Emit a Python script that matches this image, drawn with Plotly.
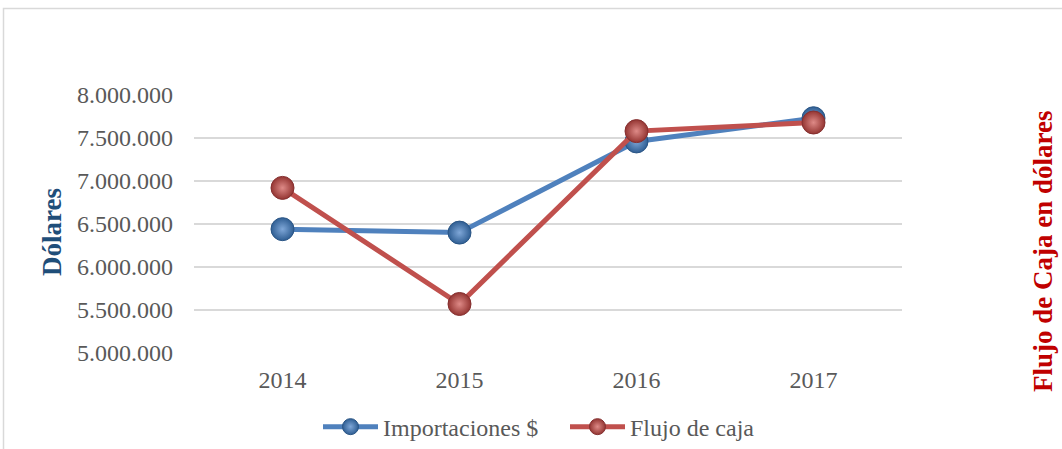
import plotly.graph_objects as go

years = ["2014", "2015", "2016", "2017"]
importaciones = [6440000, 6400000, 7460000, 7730000]
flujo_caja = [6920000, 5570000, 7580000, 7680000]
y_ticks = [5000000, 5500000, 6000000, 6500000, 7000000, 7500000, 8000000]
y_tick_labels = ["5.000.000", "5.500.000", "6.000.000", "6.500.000", "7.000.000", "7.500.000", "8.000.000"]

FONT = "Liberation Serif, Times New Roman, serif"

fig = go.Figure()
fig.add_trace(go.Scatter(
    x=years, y=importaciones, name="Importaciones $", mode="lines+markers",
    line=dict(color="#4F81BD", width=5), legend="legend",
    marker=dict(size=23, color="#2F5E93",
                gradient=dict(type="radial", color="#7FA7D8"),
                line=dict(color="#2A5585", width=1)),
))
fig.add_trace(go.Scatter(
    x=years, y=flujo_caja, name="Flujo de caja", mode="lines+markers",
    line=dict(color="#C0504D", width=5), legend="legend2",
    marker=dict(size=23, color="#943532",
                gradient=dict(type="radial", color="#DE8A87"),
                line=dict(color="#853030", width=1)),
))

legend_style = dict(orientation="h", yanchor="middle", y=-0.287, xanchor="left",
                    font=dict(family=FONT, size=24, color="#595959"), itemwidth=55,
                    bgcolor="rgba(0,0,0,0)")

fig.update_layout(
    width=1062, height=449,
    margin=dict(l=194, r=160, t=95, b=96, autoexpand=False),
    paper_bgcolor="white", plot_bgcolor="white",
    font=dict(family=FONT, size=24, color="#595959"),
    showlegend=True,
    legend=dict(legend_style, x=(318 - 194) / 708),
    legend2=dict(legend_style, x=(565 - 194) / 708),
    xaxis=dict(type="category", range=[-0.5, 3.5], showgrid=False, zeroline=False,
               showline=False, ticks="", ticklabelstandoff=10,
               tickfont=dict(family=FONT, size=24, color="#595959")),
    yaxis=dict(range=[5000000, 8000000], tickvals=y_ticks, ticktext=y_tick_labels,
               showgrid=True, gridcolor="#D9D9D9", gridwidth=1.5, zeroline=False,
               showline=False, ticks="", ticklabelstandoff=20,
               tickfont=dict(family=FONT, size=24, color="#595959")),
    shapes=[dict(type="rect", xref="paper", yref="paper",
                 x0=(3.5 - 194) / 708, x1=2.0, y0=-2.0, y1=(353 - 8.5) / 258,
                 line=dict(color="#D9D9D9", width=1.5), fillcolor="rgba(0,0,0,0)",
                 layer="below")],
    annotations=[
        dict(text="<b>Dólares</b>", xref="paper", yref="paper",
             x=(52 - 194) / 708, y=(353 - 232) / 258, textangle=-90, showarrow=False,
             xanchor="center", yanchor="middle",
             font=dict(family=FONT, size=27, color="#1F4E79")),
        dict(text="<b>Flujo de Caja en dólares</b>", xref="paper", yref="paper",
             x=(1043 - 194) / 708, y=(353 - 251) / 258, textangle=-90, showarrow=False,
             xanchor="center", yanchor="middle",
             font=dict(family=FONT, size=27, color="#C00000")),
    ],
)

fig.write_html("out.html", config={"displayModeBar": False},
               post_script="document.body.style.margin='0';")
